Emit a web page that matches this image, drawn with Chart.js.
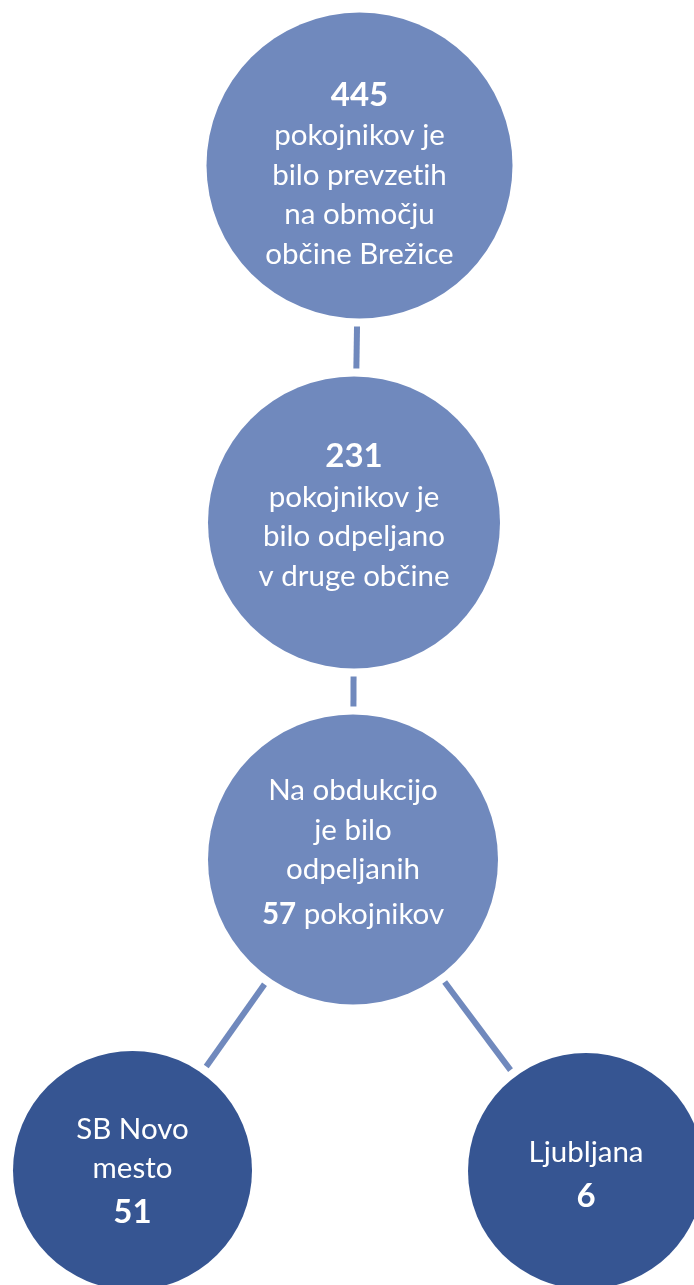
<!DOCTYPE html>
<html>
<head>
<meta charset="utf-8">
<script src="https://cdn.jsdelivr.net/npm/chart.js@4/dist/chart.umd.min.js"></script>
<style>
  html, body { margin: 0; padding: 0; background: #fff; }
  #diagram { display: block; }
</style>
</head>
<body>
<canvas id="diagram" width="694" height="1285"></canvas>
<script>
// data
const nodeValues = [445, 231, 57, 51, 6];
const nodeLines = [
    ['{v}', 'pokojnikov je', 'bilo prevzetih', 'na območju', 'občine Brežice'],
    ['{v}', 'pokojnikov je', 'bilo odpeljano', 'v druge občine'],
    ['Na obdukcijo', 'je bilo', 'odpeljanih', '{v} pokojnikov'],
    ['SB Novo', 'mesto', '{v}'],
    ['Ljubljana', '{v}']
];
const nodeLevel = [0, 0, 0, 1, 1];        // 0 = upper chain, 1 = hospitals
const links = [[0, 1], [1, 2], [2, 3], [2, 4]];

// layout (data units on the hidden x / y scales)
const posX = [359.5, 354, 353, 132.5, 586];
const posY = [165.5, 522.5, 859.5, 1170.5, 1171];
const radius = [153, 146, 145, 119.5, 118];
const textShift = [7, -8, -8, 0, 3];

const levelColors = ['#7089bd', '#365592'];
const lineColor = '#7089bd';
const FONT = "Lato, 'Open Sans', sans-serif";
const TEXT_SIZE = 29.5, NUM_SIZE = 33;

// connectors, drawn under the circles
const connectorPlugin = {
    id: 'connectors',
    beforeDatasetsDraw(chart) {
        const pts = chart.getDatasetMeta(0).data;
        const ctx = chart.ctx;
        const gap = 8;
        ctx.save();
        ctx.strokeStyle = lineColor;
        ctx.lineWidth = 6;
        ctx.lineCap = 'butt';
        links.forEach(([a, b]) => {
            const p = pts[a], q = pts[b];
            const dx = q.x - p.x, dy = q.y - p.y;
            const len = Math.hypot(dx, dy);
            const ux = dx / len, uy = dy / len;
            const ra = p.options.radius + gap, rb = q.options.radius + gap;
            ctx.beginPath();
            ctx.moveTo(p.x + ux * ra, p.y + uy * ra);
            ctx.lineTo(q.x - ux * rb, q.y - uy * rb);
            ctx.stroke();
        });
        ctx.restore();
    }
};

// text inside circles
const labelPlugin = {
    id: 'nodeLabels',
    afterDatasetsDraw(chart) {
        const pts = chart.getDatasetMeta(0).data;
        const ctx = chart.ctx;
        ctx.save();
        ctx.fillStyle = '#ffffff';
        ctx.textBaseline = 'alphabetic';
        ctx.textAlign = 'left';
        pts.forEach((el, i) => {
            const lines = nodeLines[i];
            // spacing before each line
            const steps = lines.map((l, k) => k === 0 ? 0 : (l.includes('{v}') ? 45 : 39.5));
            const total = steps.reduce((s, v) => s + v, 0);
            const cap = lines[0] === '{v}' ? 24 : 21;
            let base = el.y + textShift[i] - total / 2 + cap / 2;
            lines.forEach((line, k) => {
                base += steps[k];
                let segs;
                if (line === '{v}') {
                    segs = [{ t: String(nodeValues[i]), f: 'bold ' + NUM_SIZE + 'px ' + FONT }];
                } else if (line.includes('{v}')) {
                    const parts = line.split('{v}');
                    segs = [
                        { t: parts[0], f: TEXT_SIZE + 'px ' + FONT },
                        { t: String(nodeValues[i]), f: 'bold ' + TEXT_SIZE + 'px ' + FONT },
                        { t: parts[1], f: TEXT_SIZE + 'px ' + FONT }
                    ].filter(s => s.t.length);
                } else {
                    segs = [{ t: line, f: TEXT_SIZE + 'px ' + FONT }];
                }
                // Lato joins "ti" into a ligature, Calibri in the original does not
                segs.forEach(s => { s.t = s.t.replace(/ti/g, 't\u200Ci'); });
                let w = 0;
                segs.forEach(s => { ctx.font = s.f; s.w = ctx.measureText(s.t).width; w += s.w; });
                let x = el.x - w / 2;
                segs.forEach(s => { ctx.font = s.f; ctx.fillText(s.t, x, base); x += s.w; });
            });
        });
        ctx.restore();
    }
};

new Chart(document.getElementById('diagram'), {
    type: 'bubble',
    data: {
        datasets: [{
            data: nodeValues.map((v, i) => ({ x: posX[i], y: posY[i], r: radius[i], value: v })),
            backgroundColor: nodeLevel.map(l => levelColors[l]),
            borderWidth: 0,
            hoverRadius: 0,
            clip: false
        }]
    },
    options: {
        responsive: false,
        animation: false,
        events: [],
        layout: { padding: 0, autoPadding: false },
        scales: {
            x: { type: 'linear', min: 0, max: 694, display: false, offset: false },
            y: { type: 'linear', min: 0, max: 1285, reverse: true, display: false, offset: false }
        },
        plugins: {
            legend: { display: false },
            tooltip: { enabled: false }
        }
    },
    plugins: [connectorPlugin, labelPlugin]
});
</script>
</body>
</html>
